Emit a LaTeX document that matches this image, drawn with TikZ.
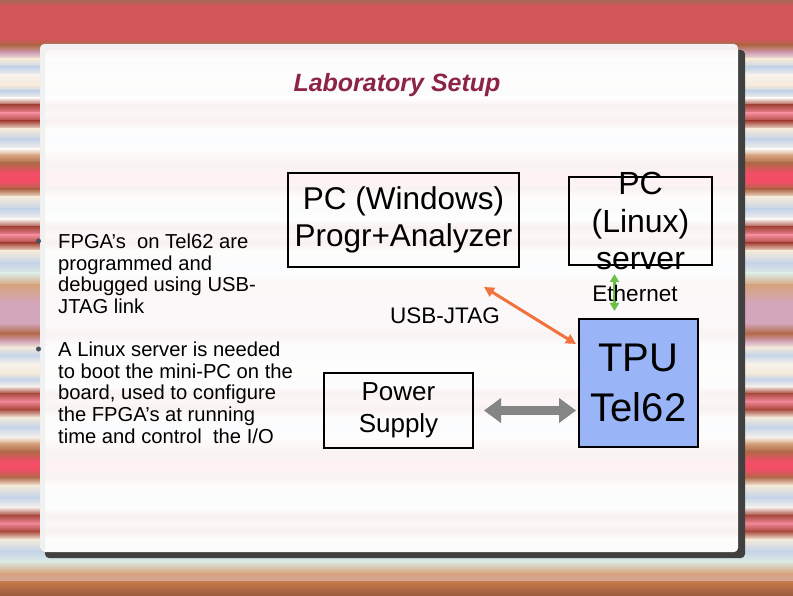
\documentclass[tikz,border=0pt]{standalone}
\usepackage{fontspec}
\setmainfont{Liberation Sans}
\usetikzlibrary{arrows.meta}
\definecolor{sBrown}{HTML}{B06848}
\definecolor{sLilac}{HTML}{D4A6BC}
\definecolor{sCream}{HTML}{F4EAD9}
\definecolor{sBlue}{HTML}{C5D3E8}
\definecolor{sWhite}{HTML}{F7F2EC}
\definecolor{sRedB}{HTML}{A8483C}
\definecolor{sPink}{HTML}{F2889A}
\definecolor{sRed}{HTML}{F24E66}
\definecolor{sTan}{HTML}{D6A47E}
\definecolor{sTeal}{HTML}{DCEBE3}
\definecolor{topred}{HTML}{D2565A}
\definecolor{topdark}{HTML}{A86A58}
\definecolor{botbrown}{HTML}{985A40}
\definecolor{botorange}{HTML}{C87A48}
\definecolor{titlered}{HTML}{8C2448}
\definecolor{bulletgray}{HTML}{465060}
\definecolor{tpublue}{HTML}{99B4F7}
\definecolor{jtagorange}{HTML}{F2723E}
\definecolor{ethgreen}{HTML}{6CBF4A}
\definecolor{pwrgray}{HTML}{858585}
\tikzset{
  box/.style={draw=black, line width=2pt, inner sep=0pt, align=center},
  bullettext/.style={align=left, anchor=north west, inner sep=0pt,
    font=\fontsize{20.2}{21.7}\selectfont},
  bulletdot/.style={circle, fill=bulletgray, inner sep=0pt, minimum size=5pt},
  linklabel/.style={inner sep=0pt, font=\fontsize{22.5}{26}\selectfont},
  jtag/.style={draw=jtagorange, line width=3pt,
    {Triangle[length=10pt,width=10pt]}-{Triangle[length=10pt,width=10pt]}},
  pwrlink/.style={draw=pwrgray, line width=8.5pt,
    {Triangle[length=17pt,width=24pt]}-{Triangle[length=17pt,width=24pt]}},
  ethlink/.style={draw=ethgreen, line width=3pt,
    {Triangle[length=8pt,width=9pt]}-{Triangle[length=8pt,width=9pt]}}
}
\begin{document}
\begin{tikzpicture}[x=1pt,y=-1pt]
\useasboundingbox (0,0) rectangle (793,596);
\fill[topred] (0,0) rectangle (793,39);
\shade[top color=topdark, bottom color=topred] (0,0) rectangle (793,6);
\shade[top color=topred, bottom color=sBrown] (0,38) rectangle (793,45.5);
\foreach \p in {45,333}
\foreach \a/\b/\c/\d in {0/8/sBrown/sLilac, 8/14/sLilac/sCream, 14/22/sCream/sBlue,
  22/30/sBlue/sWhite, 30/40/sWhite/sCream, 40/46/sCream/sBlue, 46/53/sBlue/sWhite,
  53/60/sWhite/sRedB, 60/68/sRedB/sPink, 68/76/sPink/sRedB, 76/84/sRedB/sCream,
  84/94/sCream/sBlue, 94/104/sBlue/sWhite, 104/110/sWhite/sTan, 110/118/sTan/sBrown,
  118/128/sBrown/sRed, 128/136/sRed/sRed, 136/144/sRed/sBrown, 144/152/sBrown/sCream,
  152/164/sCream/sBlue, 164/174/sBlue/sWhite, 174/182/sWhite/sRedB, 182/190/sRedB/sPink,
  190/198/sPink/sRedB, 198/206/sRedB/sCream, 206/218/sCream/sBlue, 218/228/sBlue/sTeal,
  228/240/sTeal/sTan, 240/258/sTan/sLilac, 258/278/sLilac/sLilac, 278/288/sLilac/sBrown}
{
\shade[top color=\c, bottom color=\d] (0,\p+\a) rectangle (793,\p+\b+0.6);
}
\shade[top color=botorange, bottom color=botbrown] (0,581) rectangle (793,596);

\fill[black!75, even odd rule, rounded corners=4pt] (45,50) rectangle (745,558)
  (40,44) rectangle (738,552);
\fill[white, opacity=0.93, rounded corners=4pt] (40,44) rectangle (738,552);

\node[font=\fontsize{25}{29}\selectfont\bfseries\itshape, text=titlered] (title) at (397,85) {Laboratory Setup};

\node[bulletdot] (dotA) at (38.5,241) {};
\node[bullettext] (itemA) at (58,233.5) {FPGA’s\ \ on Tel62 are\\programmed and\\debugged using USB-\\JTAG link};
\node[bulletdot] (dotB) at (38.5,349) {};
\node[bullettext] (itemB) at (58,341.5) {A Linux server is needed\\to boot the mini-PC on the\\board, used to configure\\the FPGA’s at running\\time and control\ \ the I/O};

\node[box, minimum width=231pt, minimum height=94pt, font=\fontsize{31.5}{37}\selectfont] (win) at (403.5,220) {PC (Windows)\\Progr+Analyzer};
\node[box, minimum width=143pt, minimum height=88pt] (lin) at (640.5,221) {};
\node[box, minimum width=149pt, minimum height=75pt, font=\fontsize{26}{32}\selectfont] (pwr) at (398.5,410.5) {Power\\Supply};
\node[box, fill=tpublue, minimum width=119pt, minimum height=128pt, font=\fontsize{40}{50}\selectfont] (tpu) at (638.5,383) {TPU\\Tel62};

\draw[jtag] ([shift={(-36,19)}]win.south east) -- ([shift={(-2,-39)}]tpu.west);
\draw[pwrlink, shorten <=10pt, shorten >=2pt] (pwr.east) -- (pwr.east -| tpu.west);
\coordinate (ethA) at ([shift={(-26,8)}]lin.south);
\coordinate (ethB) at (ethA |- tpu.north);
\draw[ethlink] (ethA) -- ([shift={(0,-7)}]ethB);

\node[align=center, inner sep=0pt, font=\fontsize{32}{37.5}\selectfont] (lintext) at (lin.center) {PC\\(Linux)\\server};
\node[linklabel] (jtaglabel) at (445,316) {USB-JTAG};
\node[linklabel] (ethlabel) at (635,293) {Ethernet};
\end{tikzpicture}
\end{document}
